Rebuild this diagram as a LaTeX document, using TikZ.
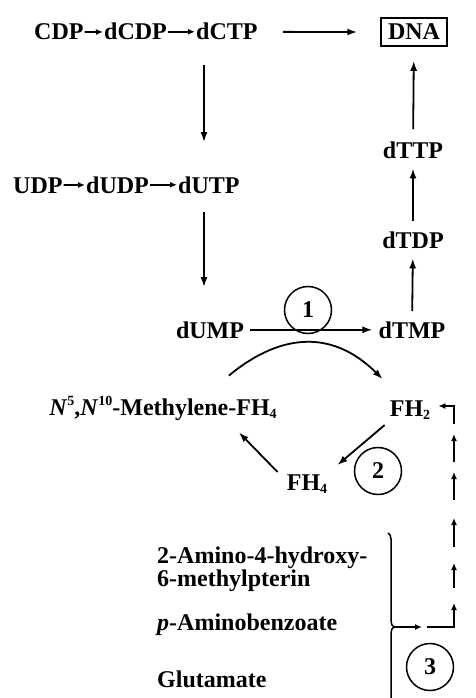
\documentclass[tikz,border=0pt]{standalone}
\usepackage{fontspec}
\setmainfont{Liberation Serif}
\usetikzlibrary{arrows.meta,positioning,calc,decorations.pathreplacing}
\newcommand{\lowsub}[1]{\raisebox{-0.35ex}{\fontsize{14}{14}\selectfont #1}}
\newcommand{\highsup}[1]{\raisebox{0.9ex}{\fontsize{14}{14}\selectfont #1}}
\tikzset{chem/.style={font=\fontsize{24}{23}\selectfont\bfseries, inner sep=1pt, anchor=base},
    rxn/.style={-{Latex[length=10pt,width=7pt]}, line width=1.8pt},
    shortrxn/.style={-{Latex[length=7pt,width=6pt]}, line width=1.8pt},
    enzyme/.style={circle, draw, line width=1.5pt, minimum size=47pt, inner sep=0pt,
        font=\fontsize{24}{24}\selectfont\bfseries},
    }

\begin{document}
\begin{tikzpicture}[x=1pt,y=-1pt]
\path[use as bounding box, clip] (0,0) rectangle (476,698);
% deoxyribonucleotides
\node[chem, anchor=base west] (cdp) at (33,40) {CDP};
\node[chem, anchor=base west] (dcdp) at (103,40) {dCDP};
\node[chem, anchor=base west] (dctp) at (195,40) {dCTP};
\draw[shortrxn] (cdp) -- (dcdp);
\draw[shortrxn] (dcdp) -- (dctp);
\node[chem, draw, line width=1.5pt, inner xsep=7pt, inner ysep=6pt] (dna) at (414,40) {DNA};
\draw[rxn, shorten <=24pt, shorten >=23pt] (dctp) -- (dna);
\node[chem, anchor=base west] (udp) at (12,193) {UDP};
\node[chem, anchor=base west] (dudp) at (85,193) {dUDP};
\node[chem, anchor=base west] (dutp) at (177,193) {dUTP};
\draw[shortrxn] (udp) -- (dudp);
\draw[shortrxn] (dudp) -- (dutp);
\draw[rxn, shorten <=24pt, shorten >=33pt] ([xshift=9pt]dctp.south west) -- ([xshift=9pt]dctp.south west |- dutp.north);
\node[chem] (dump) at (210,338) {dUMP};
\node[chem] (dtmp) at (412,338) {dTMP};
\node[chem] (dtdp) at (413,248) {dTDP};
\node[chem] (dttp) at (413,158) {dTTP};
\draw[rxn, shorten <=18pt, shorten >=33pt] ([xshift=9pt]dctp.south west |- dutp.south) -- ([xshift=9pt]dctp.south west |- dump.north);
\draw[rxn, shorten <=5pt, shorten >=5pt] (dump) -- (dtmp);
\draw[rxn, shorten <=9pt, shorten >=9pt] (dtmp) -- (dtdp);
\draw[rxn, shorten <=9pt, shorten >=9pt] (dtdp) -- (dttp);
\draw[rxn, shorten <=11pt, shorten >=14pt] (dttp) -- (dna);
\node[enzyme] (e1) at (308,310) {1};
% folate cycle
\node[chem] (meth) at (163,415) {\textit{N}\highsup{5},\textit{N}\highsup{10}-Methylene-FH\lowsub{4}};
\node[chem] (fh2) at (410,416) {FH\lowsub{2}};
\node[chem] (fh4) at (307,490) {FH\lowsub{4}};
\draw[rxn] ($(meth.north east)+(-49,-19)$) .. controls (283,331) and (334,331) .. ($(fh2.north west)+(-6,-20)$);
\draw[rxn] ($(fh2.west)+(-4,15)$) -- ($(fh4.north east)+(9,-8)$);
\draw[rxn] ($(fh4.north west)+(-8,-1)$) -- ($(meth.south east)+(-39,11)$);
\node[enzyme] (e2) at (378,471) {2};
% folate synthesis
\node[chem, anchor=base west, align=left] (pterin) at (156,586) {2-Amino-4-hydroxy-\\6-methylpterin};
\node[chem, anchor=base west] (pab) at (156,630) {\textit{p}-Aminobenzoate};
\node[chem, anchor=base west] (glu) at (156,687) {Glutamate};
\draw[line width=1.5pt, decorate, decoration={brace, amplitude=6pt}] (388,533) -- (388,721);
\coordinate (tip) at (394,627);
\coordinate (corner) at (454,627);
\coordinate (top) at (454,406);
\node[enzyme] (e3) at (430,667) {3};
\draw[shortrxn] (tip) -- ($(tip)+(28,0)$);
\draw[shortrxn] ($(tip)+(33,0)$) -- (corner) -- ($(corner)+(0,-24)$);
\foreach \from/\to in {588/563, 547/518, 500/472, 462/434}
    \draw[shortrxn] (454,\from) -- (454,\to);
\draw[shortrxn] ($(top)+(0,18)$) -- (top) -- ([xshift=7pt]top -| fh2.east);
\end{tikzpicture}
\end{document}
